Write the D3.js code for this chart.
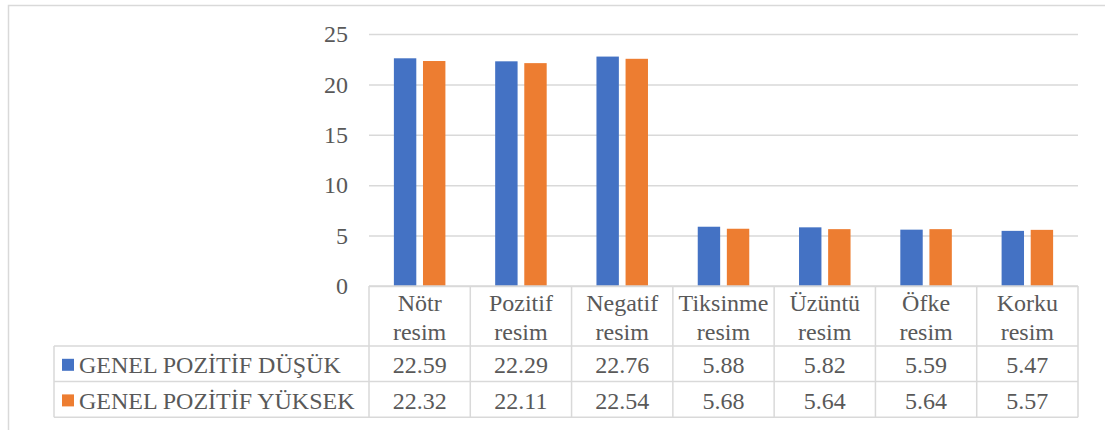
<!DOCTYPE html>
<html>
<head>
<meta charset="utf-8">
<script src="https://cdn.jsdelivr.net/npm/d3@7"></script>
<style>
  html, body { margin: 0; padding: 0; background: #fff; }
  svg { display: block; }
</style>
</head>
<body>
<svg id="chart" width="1105" height="430"></svg>
<script>
// ---- data ----
const categories = ["Nötr resim", "Pozitif resim", "Negatif resim", "Tiksinme resim", "Üzüntü resim", "Öfke resim", "Korku resim"];
const seriesNames = ["GENEL POZİTİF DÜŞÜK", "GENEL POZİTİF YÜKSEK"];
const dusuk = [22.59, 22.29, 22.76, 5.88, 5.82, 5.59, 5.47];
const yuksek = [22.32, 22.11, 22.54, 5.68, 5.64, 5.64, 5.57];
const yTicks = [0, 5, 10, 15, 20, 25];
const seriesColors = ["#4472C4", "#ED7D31"];

const seriesValues = [dusuk, yuksek];

// ---- layout ----
const svg = d3.select("#chart");
const plotLeft = 369, plotRight = 1078, plotTop = 34, plotBottom = 286;
const headerH = 60, rowH = 35.6;
const legendLeft = 54;
const gridColor = "#d9d9d9";
const txt = sel => sel.attr("font-family", "Liberation Serif").attr("font-size", 24)
  .style("font-family", "'Liberation Serif'").style("font-size", "24px").attr("fill", "#595959");

// outer frame
svg.append("rect")
  .attr("x", 8.5).attr("y", 5.5)
  .attr("width", 1110).attr("height", 440)
  .attr("fill", "none").attr("stroke", gridColor).attr("stroke-width", 1.5);

const x0 = d3.scaleBand().domain(categories).range([plotLeft, plotRight]).paddingInner(0).paddingOuter(0);
const x1 = d3.scaleBand().domain(seriesNames).range([0, x0.bandwidth()]).paddingInner(0.23).paddingOuter(0.855);
const y = d3.scaleLinear().domain([0, 25]).range([plotBottom, plotTop]);

// y axis (gridlines + labels)
const yAxis = d3.axisLeft(y).tickValues(yTicks).tickSize(-(plotRight - plotLeft)).tickPadding(21).tickFormat(d3.format("d"));
const gy = svg.append("g").attr("transform", `translate(${plotLeft},0)`).call(yAxis);
gy.select(".domain").remove();
gy.attr("font-family", "Liberation Serif").attr("font-size", 24);
gy.selectAll(".tick line").attr("stroke", gridColor).attr("stroke-width", 1.5);
gy.selectAll(".tick text").call(txt);

// bars
const gBars = svg.append("g");
seriesNames.forEach((s, si) => {
  gBars.selectAll(null)
    .data(categories.map((c, i) => ({ c, v: seriesValues[si][i] })))
    .enter().append("rect")
    .attr("x", d => x0(d.c) + x1(s))
    .attr("y", d => y(d.v))
    .attr("width", x1.bandwidth())
    .attr("height", d => y(0) - y(d.v))
    .attr("fill", seriesColors[si]);
});

// data table
const tableTop = plotBottom;
const row1Top = tableTop + headerH;
const row2Top = row1Top + rowH;
const tableBottom = row2Top + rowH;
const gT = svg.append("g");
const lineAttr = sel => sel.attr("stroke", gridColor).attr("stroke-width", 1.5).attr("fill", "none");

[[plotLeft, plotRight, tableTop], [legendLeft, plotRight, row1Top], [legendLeft, plotRight, row2Top], [legendLeft, plotRight, tableBottom]]
  .forEach(([a, b, yy]) => gT.append("line").attr("x1", a).attr("x2", b).attr("y1", yy).attr("y2", yy).call(lineAttr));
gT.append("line").attr("x1", legendLeft).attr("x2", legendLeft).attr("y1", row1Top).attr("y2", tableBottom).call(lineAttr);
categories.concat([null]).forEach(c => {
  const xx = c === null ? plotRight : x0(c);
  gT.append("line").attr("x1", xx).attr("x2", xx).attr("y1", tableTop).attr("y2", tableBottom).call(lineAttr);
});

// header text
categories.forEach(c => {
  const parts = c.split(" ");
  const cx = x0(c) + x0.bandwidth() / 2;
  parts.forEach((p, k) => {
    gT.append("text").attr("x", cx).attr("y", tableTop + 17 + k * 28.7)
      .attr("dy", "0.35em").attr("text-anchor", "middle").call(txt).text(p);
  });
});

// rows
const fmt = d3.format(".2f");
seriesNames.forEach((s, si) => {
  const rowTop = si === 0 ? row1Top : row2Top;
  const cy = rowTop + rowH / 2 + 1;
  gT.append("rect").attr("x", 62).attr("y", cy - 6).attr("width", 12).attr("height", 12).attr("fill", seriesColors[si]);
  gT.append("text").attr("x", 79).attr("y", cy).attr("dy", "0.35em").call(txt).text(s);
  categories.forEach((c, i) => {
    gT.append("text").attr("x", x0(c) + x0.bandwidth() / 2).attr("y", cy)
      .attr("dy", "0.35em").attr("text-anchor", "middle").call(txt)
      .text(fmt(seriesValues[si][i]));
  });
});
</script>
</body>
</html>
